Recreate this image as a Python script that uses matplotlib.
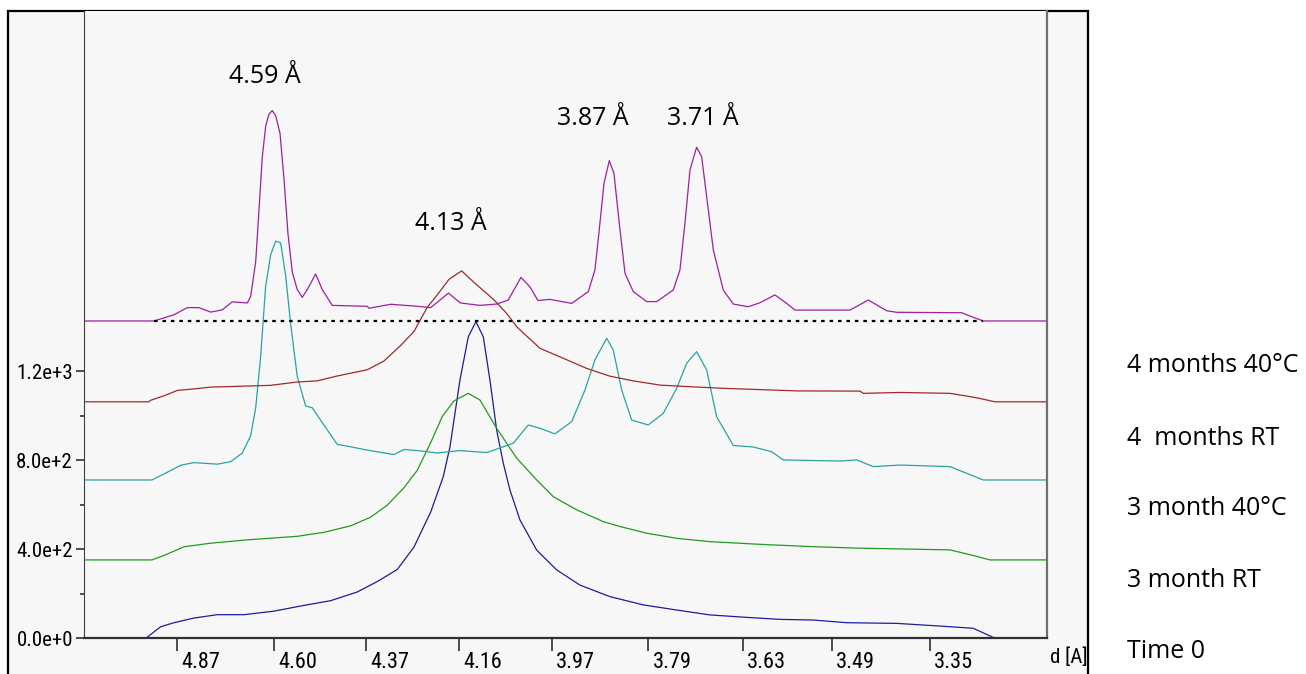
import numpy as np
import matplotlib
matplotlib.use("Agg")
import matplotlib.pyplot as plt
import matplotlib.transforms as mtransforms
from matplotlib import font_manager
from matplotlib.patches import Rectangle

# XRD patterns, x = 2theta (deg, Cu Ka), y = counts above each pattern's own baseline
tt_4m_40c = [17.164, 17.944, 18.167, 18.315, 18.445, 18.575, 18.705, 18.816, 18.983, 19.021,
             19.077, 19.114, 19.150, 19.188, 19.225, 19.262, 19.300, 19.348, 19.392, 19.437,
             19.485, 19.540, 19.596, 19.652, 19.745, 19.819, 19.930, 20.320, 20.339, 20.581,
             20.877, 21.027, 21.225, 21.357, 21.576, 21.762, 21.891, 22.033, 22.133, 22.222,
             22.356, 22.598, 22.783, 22.857, 22.905, 22.958, 23.017, 23.069, 23.128, 23.192,
             23.284, 23.433, 23.545, 23.730, 23.804, 23.860, 23.916, 23.990, 24.046, 24.102,
             24.176, 24.287, 24.398, 24.565, 24.696, 24.863, 24.993, 25.086, 25.699, 25.903,
             26.108, 26.219, 26.943, 27.036, 27.184, 27.894]
int_4m_40c = [0, 0, 28, 60, 60, 40, 50, 86, 81, 110,
              266, 500, 734, 874, 929, 945, 921, 843, 640, 391,
              219, 141, 106, 141, 211, 141, 70, 66, 57, 75,
              66, 60, 125, 81, 70, 76, 94, 196, 153, 92,
              97, 79, 132, 229, 409, 618, 720, 663, 439, 214,
              132, 87, 87, 139, 229, 439, 678, 780, 738, 558,
              319, 139, 76, 64, 82, 117, 79, 49, 49, 94,
              46, 39, 37, 22, 0, 0]

tt_4m_rt = [17.164, 17.888, 17.907, 18.055, 18.203, 18.389, 18.575, 18.835, 19.244, 19.540,
            19.763, 19.986, 20.320, 20.506, 20.692, 20.841, 20.989, 21.100, 21.231, 21.372,
            21.501, 21.724, 21.874, 21.985, 22.245, 22.467, 22.765, 23.025, 23.284, 23.582,
            23.953, 24.325, 25.105, 25.810, 25.847, 26.256, 26.813, 26.999, 27.147, 27.314,
            27.894]
int_4m_rt = [0, 0, 7, 27, 51, 58, 66, 69, 74, 89,
             94, 116, 144, 183, 253, 316, 425, 480, 550, 588,
             539, 461, 397, 337, 240, 202, 150, 115, 94, 75,
             67, 60, 49, 48, 38, 42, 38, 26, 15, 0,
             0]

tt_3m_40c = [17.164, 17.921, 18.055, 18.241, 18.389, 18.649, 18.798, 18.928, 19.021, 19.077,
             19.133, 19.188, 19.244, 19.300, 19.355, 19.411, 19.467, 19.540, 19.634, 19.708,
             19.838, 19.986, 20.135, 20.320, 20.618, 20.729, 20.952, 21.100, 21.353, 21.651,
             21.947, 22.114, 22.245, 22.412, 22.598, 22.746, 22.857, 22.988, 23.061, 23.155,
             23.266, 23.451, 23.618, 23.768, 23.879, 23.990, 24.102, 24.213, 24.398, 24.621,
             24.826, 24.955, 25.587, 25.773, 25.958, 26.256, 26.813, 26.999, 27.184, 27.894]
int_3m_40c = [0, 0, 27, 66, 78, 71, 82, 121, 199, 324,
              558, 870, 1011, 1073, 1065, 917, 699, 465, 332, 324,
              246, 160, 149, 134, 114, 137, 129, 121, 132, 123,
              165, 247, 232, 207, 262, 404, 539, 636, 584, 404,
              269, 247, 299, 412, 524, 576, 494, 284, 155, 148,
              127, 90, 85, 90, 60, 67, 60, 30, 0, 0]

tt_3m_rt = [17.164, 17.921, 18.055, 18.278, 18.575, 18.983, 19.540, 19.838, 20.135, 20.358,
            20.543, 20.729, 20.877, 21.027, 21.156, 21.286, 21.446, 21.576, 21.762, 21.985,
            22.208, 22.393, 22.653, 22.950, 23.136, 23.433, 23.768, 24.139, 24.696, 25.253,
            25.773, 26.813, 27.091, 27.258, 27.894]
int_3m_rt = [0, 0, 20, 59, 75, 90, 106, 124, 153, 192,
             246, 324, 402, 527, 644, 714, 748, 718, 591, 457,
             359, 284, 225, 172, 150, 120, 97, 82, 70, 60,
             53, 45, 18, 0, 0]

tt_t0 = [17.869, 18.018, 18.167, 18.389, 18.649, 18.947, 19.281, 19.578, 19.913, 20.209,
         20.432, 20.655, 20.841, 21.027, 21.167, 21.242, 21.353, 21.446, 21.531, 21.613,
         21.687, 21.762, 21.836, 21.910, 22.022, 22.208, 22.431, 22.690, 23.025, 23.396,
         23.768, 24.139, 24.548, 24.919, 25.290, 25.662, 26.219, 26.701, 27.072, 27.295]
int_t0 = [5, 52, 70, 91, 106, 106, 122, 145, 169, 208,
          255, 309, 410, 567, 726, 860, 1160, 1354, 1422, 1354,
          1160, 935, 786, 666, 531, 396, 307, 239, 187, 150,
          127, 105, 94, 85, 82, 70, 67, 55, 45, 4]

samples = ["Time 0", "3 month RT", "3 month 40°C", "4  months RT", "4 months 40°C"]
offsets = [0, 352, 711, 1062, 1425]
colors = ["#1c1ca0", "#229a22", "#2aa3a3", "#a3282a", "#a020a0"]
traces = [(tt_t0, int_t0), (tt_3m_rt, int_3m_rt), (tt_3m_40c, int_3m_40c),
          (tt_4m_rt, int_4m_rt), (tt_4m_40c, int_4m_40c)]

d_ticks = [4.87, 4.60, 4.37, 4.16, 3.97, 3.79, 3.63, 3.49, 3.35]
peak_labels = ["4.59 Å", "4.13 Å", "3.87 Å", "3.71 Å"]
wavelength = 1.5406

# narrow font for the instrument-style axis labels, whatever is installed
entries = font_manager.fontManager.ttflist
names = {f.name for f in entries}
axis_stretch = "normal"
if "Liberation Sans Narrow" in names:
    axis_font, axis_size = "Liberation Sans Narrow", 15
elif "Roboto Condensed" in names:
    axis_font, axis_size = "Roboto Condensed", 15
elif any(f.name == "DejaVu Sans" and f.stretch == "condensed" for f in entries):
    axis_font, axis_size, axis_stretch = "DejaVu Sans", 14, "condensed"
else:
    axis_font, axis_size = "Roboto", 13
label_font = "Open Sans"

W, H = 1306, 674
fig = plt.figure(figsize=(W / 100, H / 100), dpi=100)
fig.patch.set_facecolor("white")

# outer panel of the instrument window
fig.add_artist(Rectangle((8 / W, -0.02), (1088 - 8) / W, 1 - 11 / H + 0.02,
                         transform=fig.transFigure, facecolor="#f7f7f7",
                         edgecolor="black", lw=1.6, zorder=0))

ax = fig.add_axes([84 / W, 1 - 638.3 / H, (1047 - 84) / W, (638.3 - 11) / H])
ax.set_facecolor("#f7f7f7")
ax.set_xlim(17.164, 27.894)
ax.set_ylim(0, 2817)

for (tt, inten), off, c in zip(traces, offsets, colors):
    ax.plot(tt, np.array(inten) + off, color=c, lw=0.9)

# baseline of the top pattern
ax.hlines(offsets[-1], tt_4m_40c[1], tt_4m_40c[-2], colors="black",
          linestyles=(0, (1.6, 2.2)), lw=1.6)

ax.spines["top"].set_visible(False)
ax.spines["left"].set_color("#404040")
ax.spines["right"].set_color("#707070")
ax.spines["right"].set_linewidth(1.6)
ax.spines["bottom"].set_color("#303030")
ax.spines["bottom"].set_linewidth(1.6)

ax.set_yticks([0, 400, 800, 1200], ["0.0e+0", "4.0e+2", "8.0e+2", "1.2e+3"])
ax.set_yticks([200, 600, 1000], minor=True)
ax.tick_params(axis="y", which="major", direction="out", length=6, width=1.2,
               color="#303030", pad=2, labelsize=axis_size)
ax.tick_params(axis="y", which="minor", direction="out", length=3, width=1.2,
               color="#303030")

tick_pos = np.degrees(2 * np.arcsin(wavelength / (2 * np.array(d_ticks))))
ax.set_xticks(tick_pos, [f"{d:.2f}" for d in d_ticks])
ax.tick_params(axis="x", direction="out", length=9, width=1.2, color="#303030",
               pad=1, labelsize=axis_size + 1)
shift = mtransforms.ScaledTranslation(4 / 100, 0, fig.dpi_scale_trans)
for lbl in ax.get_xticklabels():
    lbl.set_horizontalalignment("left")
    lbl.set_transform(lbl.get_transform() + shift)
for lbl in ax.get_xticklabels() + ax.get_yticklabels():
    lbl.set_fontfamily(axis_font)
    lbl.set_fontstretch(axis_stretch)

fig.text(1050 / W, 1 - 657 / H, "d [A]", fontsize=axis_size, family=axis_font,
         stretch=axis_stretch, ha="left", va="center")

# peak annotations
fig.text(229 / W, 1 - 83 / H, peak_labels[0], fontsize=18, family=label_font, va="baseline")
fig.text(415 / W, 1 - 230 / H, peak_labels[1], fontsize=18, family=label_font, va="baseline")
fig.text(557 / W, 1 - 125 / H, peak_labels[2], fontsize=18, family=label_font, va="baseline")
fig.text(667 / W, 1 - 125 / H, peak_labels[3], fontsize=18, family=label_font, va="baseline")

# sample names on the right, top pattern first
label_y = [658.3, 586.7, 515, 445, 371.7]
for name, yb in zip(samples, label_y):
    fig.text(1127 / W, 1 - yb / H, name, fontsize=18, family=label_font, va="baseline")

fig.savefig("out.png", dpi=100)
